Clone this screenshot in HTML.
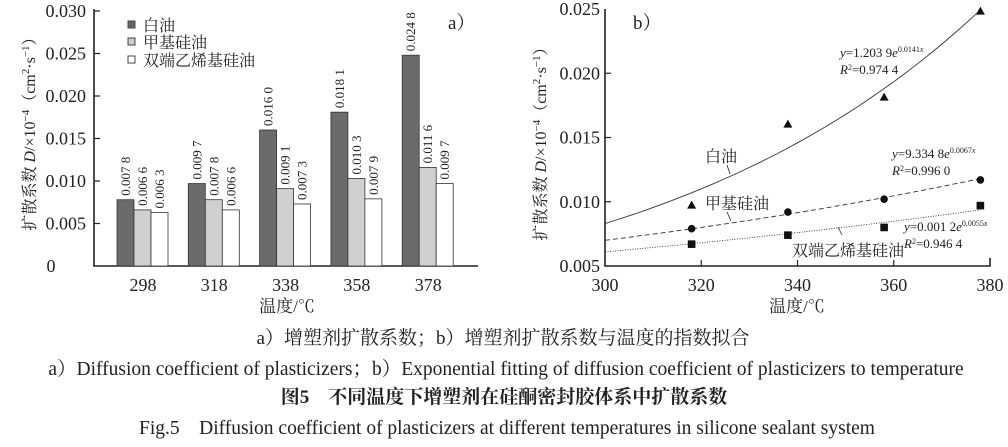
<!DOCTYPE html>
<html><head><meta charset="utf-8">
<style>
body{margin:0;background:#fff;width:1008px;height:442px;overflow:hidden}
svg text{font-family:"Liberation Serif","Noto Serif CJK SC",serif;fill:#222}
.cjk{font-family:"Liberation Serif","Noto Serif CJK SC",serif}
</style></head><body>
<svg id="s" width="1008" height="442" xmlns="http://www.w3.org/2000/svg">
<g stroke="#222" stroke-width="1.6" fill="none">
<path d="M94,9 V266 H478"/>
<path d="M605,9 V266 H990 V258"/>
</g>
<g id="L"></g><g id="R"></g>
<text x="448" y="29" font-size="19">a）</text>
<text x="633" y="29" font-size="19">b）</text>
<text class="cjk" font-size="16" transform="translate(35,130) rotate(-90)" text-anchor="middle">扩散系数 <tspan font-style="italic">D</tspan>/×10<tspan font-size="11" dy="-6">−4</tspan><tspan dy="6">（cm</tspan><tspan font-size="11" dy="-6">2</tspan><tspan dy="6">·s</tspan><tspan font-size="11" dy="-6">−1</tspan><tspan dy="6">）</tspan></text>
<text class="cjk" font-size="16" transform="translate(546,140) rotate(-90)" text-anchor="middle">扩散系数 <tspan font-style="italic">D</tspan>/×10<tspan font-size="11" dy="-6">−4</tspan><tspan dy="6">（cm</tspan><tspan font-size="11" dy="-6">2</tspan><tspan dy="6">·s</tspan><tspan font-size="11" dy="-6">−1</tspan><tspan dy="6">）</tspan></text>
<text class="cjk" x="287" y="312" font-size="17" text-anchor="middle">温度/℃</text>
<text class="cjk" x="797" y="312" font-size="17" text-anchor="middle">温度/℃</text>
<rect x="128" y="21" width="7" height="7" fill="#666" stroke="#444"/>
<rect x="128" y="38" width="7" height="7" fill="#ccc" stroke="#444"/>
<rect x="128" y="56" width="7" height="7" fill="#fff" stroke="#444"/>
<text class="cjk" x="143" y="31" font-size="16">白油</text>
<text class="cjk" x="143" y="48" font-size="16">甲基硅油</text>
<text class="cjk" x="143" y="66" font-size="16">双端乙烯基硅油</text>
<text x="840" y="57" font-size="13"><tspan font-style="italic">y</tspan>=1.203 9<tspan font-style="italic">e</tspan><tspan font-size="8" dy="-5">0.0141<tspan font-style="italic">x</tspan></tspan></text>
<text x="840" y="74" font-size="13"><tspan font-style="italic">R</tspan><tspan font-size="8" dy="-4">2</tspan><tspan dy="4">=0.974 4</tspan></text>
<text x="892" y="158" font-size="13"><tspan font-style="italic">y</tspan>=9.334 8<tspan font-style="italic">e</tspan><tspan font-size="8" dy="-5">0.0067<tspan font-style="italic">x</tspan></tspan></text>
<text x="892" y="175" font-size="13"><tspan font-style="italic">R</tspan><tspan font-size="8" dy="-4">2</tspan><tspan dy="4">=0.996 0</tspan></text>
<text x="904" y="231" font-size="13"><tspan font-style="italic">y</tspan>=0.001 2<tspan font-style="italic">e</tspan><tspan font-size="8" dy="-5">0.0055<tspan font-style="italic">x</tspan></tspan></text>
<text x="904" y="248" font-size="13"><tspan font-style="italic">R</tspan><tspan font-size="8" dy="-4">2</tspan><tspan dy="4">=0.946 4</tspan></text>
<text class="cjk" x="705" y="162" font-size="16">白油</text>
<text class="cjk" x="705" y="209" font-size="16">甲基硅油</text>
<text class="cjk" x="792" y="256" font-size="16">双端乙烯基硅油</text>
<g stroke="#222" stroke-width="0.8"><path d="M727,165 L730,174"/><path d="M727,212 L731,221"/><path d="M838,227 L842,235"/></g>
<text class="cjk" x="503" y="344" font-size="19" text-anchor="middle">a）增塑剂扩散系数；b）增塑剂扩散系数与温度的指数拟合</text>
<text x="506" y="375" font-size="19.5" text-anchor="middle">a）Diffusion coefficient of plasticizers；b）Exponential fitting of diffusion coefficient of plasticizers to temperature</text>
<text class="cjk" x="504" y="403" font-size="19" font-weight="bold" text-anchor="middle">图5　不同温度下增塑剂在硅酮密封胶体系中扩散系数</text>
<text x="507" y="434" font-size="19.5" text-anchor="middle">Fig.5　Diffusion coefficient of plasticizers at different temperatures in silicone sealant system</text>
</svg>
<script>
const NS="http://www.w3.org/2000/svg";
function el(p,t,a,txt){const e=document.createElementNS(NS,t);for(const k in a)e.setAttribute(k,a[k]);if(txt!=null)e.textContent=txt;p.appendChild(e);return e;}
const L=document.getElementById('L'),R=document.getElementById('R');
const yl=v=>266-v*8500;
["0","0.005","0.010","0.015","0.020","0.025","0.030"].forEach((t,i)=>{const y=266-i*42.5;
 if(i>0)el(L,'line',{x1:94,x2:100,y1:y,y2:y,stroke:'#222','stroke-width':1.2});
 el(L,'text',{x:i?86:51,y:y+6,'font-size':18,'text-anchor':i?'end':'middle'},t);});
const data=[[0.0078,0.0066,0.0063],[0.0097,0.0078,0.0066],[0.0160,0.0091,0.0073],[0.0181,0.0103,0.0079],[0.0248,0.0116,0.0097]];
const labs=[["0.007 8","0.006 6","0.006 3"],["0.009 7","0.007 8","0.006 6"],["0.016 0","0.009 1","0.007 3"],["0.018 1","0.010 3","0.007 9"],["0.024 8","0.011 6","0.009 7"]];
const cols=['#6b6b6d','#cfd0d2','#fff'];
["298","318","338","358","378"].forEach((t,g)=>{const x0=117+g*71.3;
 data[g].forEach((v,k)=>{const x=x0+k*17;const y=yl(v);
  el(L,'rect',{x:x,y:y,width:17,height:266-y,fill:cols[k],stroke:'#333','stroke-width':0.8});
  el(L,'text',{transform:`translate(${x+13},${y-4}) rotate(-90)`,'font-size':13},labs[g][k]);});
 el(L,'text',{x:x0+26,y:291,'font-size':18,'text-anchor':'middle'},t);});
const xr=x=>605+(x-300)*4.8125,yr=v=>266-(v-0.005)*12850;
["0.005","0.010","0.015","0.020","0.025"].forEach((t,i)=>{const y=266-i*64.25;
 if(i>0&&i<4)el(R,'line',{x1:605,x2:611,y1:y,y2:y,stroke:'#222','stroke-width':1.2});
 el(R,'text',{x:600,y:y+6,'font-size':18,'text-anchor':'end'},t);});
["300","320","340","360","380"].forEach((t,i)=>{const x=605+i*96.25;
 if(i>0&&i<4)el(R,'line',{x1:x,x2:x,y1:266,y2:260,stroke:'#222','stroke-width':1.2});
 el(R,'text',{x:x,y:291,'font-size':18,'text-anchor':'middle'},t);});
function curve(a,b,st){let d='';for(let x=300;x<=378.01;x+=2){d+=(x==300?'M':'L')+xr(x).toFixed(1)+','+yr(a*Math.exp(b*(x-300))).toFixed(1);}
 el(R,'path',Object.assign({d:d,fill:'none',stroke:'#333','stroke-width':0.9},st));}
curve(0.0083,0.0141,{});curve(0.0070,0.0067,{'stroke-dasharray':'5,3'});curve(0.0061,0.0055,{'stroke-dasharray':'1,1.5'});
const X=[318,338,358,378];
[0.0097,0.0160,0.0181,0.0248].forEach((v,i)=>{const x=xr(X[i]),y=yr(v);el(R,'path',{d:`M${x},${y-5}L${x+4.5},${y+3}L${x-4.5},${y+3}Z`,fill:'#111'});});
[0.0079,0.0092,0.0102,0.0117].forEach((v,i)=>el(R,'circle',{cx:xr(X[i]),cy:yr(v),r:3.8,fill:'#111'}));
[0.0067,0.0074,0.0080,0.0097].forEach((v,i)=>el(R,'rect',{x:xr(X[i])-3.8,y:yr(v)-3.8,width:7.6,height:7.6,fill:'#111'}));
</script>
</body></html>
